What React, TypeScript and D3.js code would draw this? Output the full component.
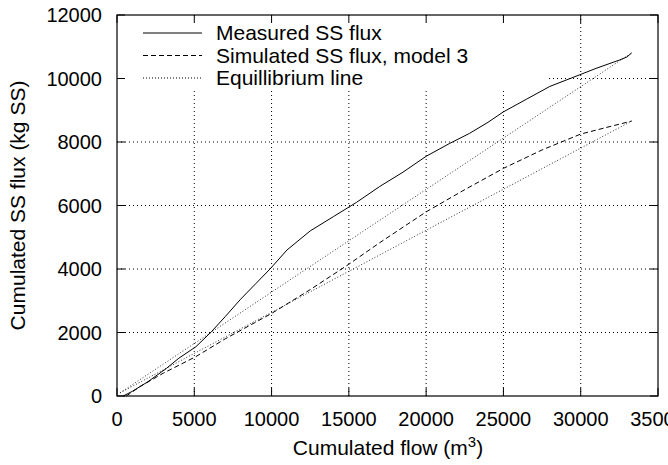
import React from "react";
import * as d3 from "d3";

const measuredFlow = [400, 1000, 2000, 3200, 4000, 5100, 6100, 7000, 8000, 9000, 9900, 11000, 12500, 14000, 15500, 17000, 18500, 20000, 21500, 22800, 24000, 25000, 26500, 28000, 29900, 31000, 32500, 33000, 33300];
const measuredSS = [0, 150, 450, 870, 1190, 1550, 2020, 2500, 3050, 3550, 4000, 4600, 5200, 5650, 6100, 6600, 7050, 7550, 7950, 8270, 8620, 8950, 9350, 9750, 10110, 10320, 10580, 10680, 10810];

const simulatedFlow = [600, 1500, 3000, 5100, 7000, 10000, 12500, 15000, 17000, 20000, 22500, 25000, 27500, 30000, 32000, 33300];
const simulatedSS = [0, 300, 720, 1240, 1800, 2600, 3350, 4150, 4830, 5800, 6500, 7170, 7750, 8250, 8500, 8660];

const eqFlow = [200, 33300];
const eqMeasured = [100, 10810];
const eqSimulated = [100, 8660];

const xTicks = [0, 5000, 10000, 15000, 20000, 25000, 30000, 35000];
const yTicks = [0, 2000, 4000, 6000, 8000, 10000, 12000];

const legendLabels = ["Measured SS flux", "Simulated SS flux, model 3", "Equillibrium line"];

const W = 668, H = 465;
const L = 117, R = 658, T = 15, B = 396;

export default function App() {
  const x = d3.scaleLinear().domain([0, 35000]).range([L, R]);
  const y = d3.scaleLinear().domain([0, 12000]).range([B, T]);
  const line = d3.line<[number, number]>().x(d => x(d[0])).y(d => y(d[1]));
  const meas = measuredFlow.map((f, i) => [f, measuredSS[i]] as [number, number]);
  const sim = simulatedFlow.map((f, i) => [f, simulatedSS[i]] as [number, number]);
  const eq1 = eqFlow.map((f, i) => [f, eqMeasured[i]] as [number, number]);
  const eq2 = eqFlow.map((f, i) => [f, eqSimulated[i]] as [number, number]);
  const font = "'Liberation Sans', Arial, sans-serif";
  const legX0 = 143, legX1 = 202, legTX = 216;
  const legY = [33, 55.5, 78];
  const styles = [
    { dash: undefined },
    { dash: "5,3" },
    { dash: "1,2" },
  ];
  return (
    <svg width={W} height={H} style={{ position: "fixed", left: 0, top: 0, background: "#fff" }} fontFamily={font}>
      <rect x={0} y={0} width={W} height={H} fill="#fff" />
      <g stroke="#000" strokeWidth={1} strokeDasharray="1,3">
        {xTicks.slice(1, -1).map(t => (
          <line key={"gx" + t} x1={x(t)} x2={x(t)} y1={B} y2={T} />
        ))}
        {yTicks.slice(1, -1).map(t => (
          <line key={"gy" + t} x1={L} x2={R} y1={y(t)} y2={y(t)} />
        ))}
      </g>
      <rect x={L + 1} y={T + 1} width={548 - L} height={88 - T} fill="#fff" />
      <g stroke="#000" strokeWidth={1}>
        {xTicks.map(t => (
          <g key={"tx" + t}>
            <line x1={x(t)} x2={x(t)} y1={B} y2={B - 8} />
            <line x1={x(t)} x2={x(t)} y1={T} y2={T + 8} />
          </g>
        ))}
        {yTicks.map(t => (
          <g key={"ty" + t}>
            <line x1={L} x2={L + 8} y1={y(t)} y2={y(t)} />
            <line x1={R} x2={R - 8} y1={y(t)} y2={y(t)} />
          </g>
        ))}
      </g>
      <g fill="none" stroke="#000">
        <path d={line(eq1) || ""} strokeDasharray="1,2" strokeWidth={1} stroke="#333" />
        <path d={line(eq2) || ""} strokeDasharray="1,2" strokeWidth={1} stroke="#333" />
        <path d={line(sim) || ""} strokeDasharray="5,3" strokeWidth={1} />
        <path d={line(meas) || ""} strokeWidth={1} />
      </g>
      <rect x={L} y={T} width={R - L} height={B - T} fill="none" stroke="#000" strokeWidth={1.2} />
      {legendLabels.map((lab, i) => (
        <g key={lab}>
          <line x1={legX0} x2={legX1} y1={legY[i]} y2={legY[i]} stroke="#000" strokeWidth={1} strokeDasharray={styles[i].dash} />
          <text x={legTX} y={legY[i] + 7} fontSize={21}>{lab}</text>
        </g>
      ))}
      {xTicks.map(t => (
        <text key={"lx" + t} x={x(t)} y={426} fontSize={20} textAnchor="middle">{t}</text>
      ))}
      {yTicks.map(t => (
        <text key={"ly" + t} x={102} y={y(t) + 7} fontSize={20} textAnchor="end">{t}</text>
      ))}
      <text x={388} y={455} fontSize={21} textAnchor="middle">
        Cumulated flow (m<tspan dy={-8} fontSize={15}>3</tspan><tspan dy={8}>)</tspan>
      </text>
      <text transform={`translate(25,${(T + B) / 2}) rotate(-90)`} fontSize={21} textAnchor="middle">Cumulated SS flux (kg SS)</text>
    </svg>
  );
}
